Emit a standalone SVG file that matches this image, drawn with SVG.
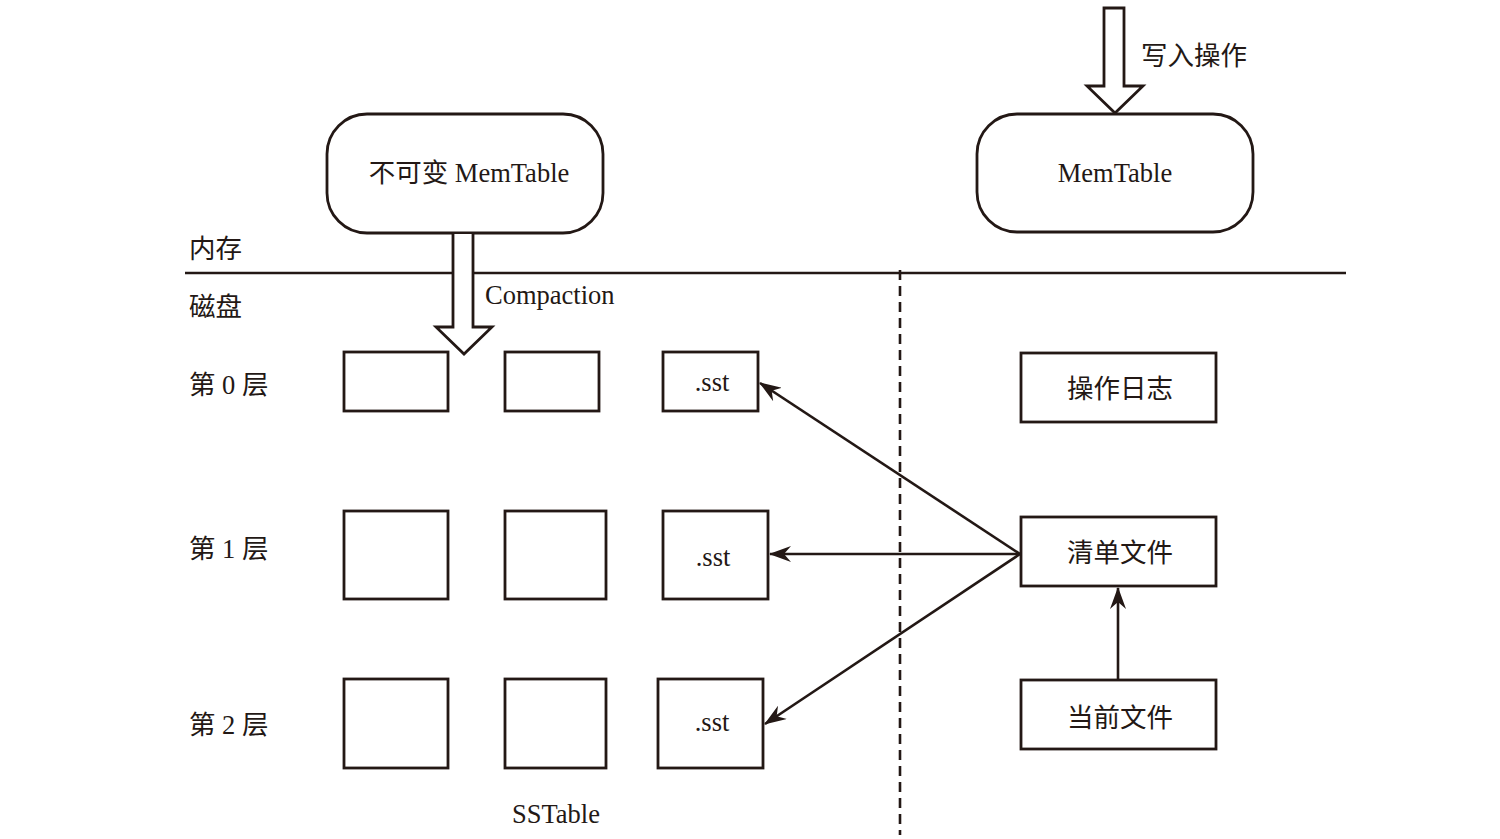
<svg xmlns="http://www.w3.org/2000/svg" width="1500" height="839" viewBox="0 0 1500 839">
<defs>
<marker id="ah" viewBox="0 0 22 16" refX="21" refY="8" markerWidth="22" markerHeight="16" markerUnits="userSpaceOnUse" orient="auto">
<path d="M0,0 L22,8 L0,16 L7,8 Z" fill="#231815"/>
</marker>
</defs>
<style>
.box{fill:#fff;stroke:#231815;stroke-width:2.8}
.ln{fill:none;stroke:#231815;stroke-width:2.6}
.t{font-family:"Liberation Serif","Noto Sans CJK SC",serif;font-size:26.5px;fill:#231815}
.c{text-anchor:middle}
</style>
<rect width="1500" height="839" fill="#fff"/>

<g id="divider">
<line class="ln" x1="185" y1="273" x2="1346" y2="273" stroke-width="2.2"/>
<line class="ln" x1="900" y1="270" x2="900" y2="835" stroke-width="2.2" stroke-dasharray="10,6"/>
</g>

<g id="labels">
<text class="t" x="189" y="258">内存</text>
<text class="t" x="189" y="316">磁盘</text>
<text class="t" x="189" y="394">第 0 层</text>
<text class="t" x="189" y="558">第 1 层</text>
<text class="t" x="189" y="734">第 2 层</text>
<text class="t c" x="556" y="823">SSTable</text>
</g>

<g id="write-arrow">
<path class="box" d="M1104,8 H1124 V86 H1143 L1115,113 L1087,86 H1104 Z"/>
<text class="t" x="1141" y="65">写入操作</text>
</g>

<g id="memtable">
<rect class="box" x="977" y="114" width="276" height="118" rx="40" ry="40"/>
<text class="t c" x="1115" y="182">MemTable</text>
</g>

<g id="imm-memtable">
<rect class="box" x="327" y="114" width="276" height="119" rx="40" ry="40"/>
<text class="t c" x="469" y="182">不可变 MemTable</text>
</g>

<g id="compaction-arrow">
<path class="box" d="M453,234 V327 H436 L464,354 L492,327 H473 V234"/>
<text class="t" x="485" y="304">Compaction</text>
</g>

<g id="level0">
<rect class="box" x="344" y="352" width="104" height="59"/>
<rect class="box" x="505" y="352" width="94" height="59"/>
<rect class="box" x="663" y="352" width="95" height="59"/>
<text class="t c" x="712" y="391">.sst</text>
</g>
<g id="level1">
<rect class="box" x="344" y="511" width="104" height="88"/>
<rect class="box" x="505" y="511" width="101" height="88"/>
<rect class="box" x="663" y="511" width="105" height="88"/>
<text class="t c" x="713" y="566">.sst</text>
</g>
<g id="level2">
<rect class="box" x="344" y="679" width="104" height="89"/>
<rect class="box" x="505" y="679" width="101" height="89"/>
<rect class="box" x="658" y="679" width="105" height="89"/>
<text class="t c" x="712" y="731">.sst</text>
</g>

<g id="log">
<rect class="box" x="1021" y="353" width="195" height="69"/>
<text class="t c" x="1120" y="398">操作日志</text>
</g>
<g id="manifest">
<rect class="box" x="1021" y="517" width="195" height="69"/>
<text class="t c" x="1120" y="562">清单文件</text>
</g>
<g id="current">
<rect class="box" x="1021" y="680" width="195" height="69"/>
<text class="t c" x="1120" y="727">当前文件</text>
</g>

<g id="connectors">
<line class="ln" x1="1020" y1="554" x2="760" y2="383" marker-end="url(#ah)"/>
<line class="ln" x1="1020" y1="554" x2="770" y2="554" marker-end="url(#ah)"/>
<line class="ln" x1="1020" y1="554" x2="765" y2="724" marker-end="url(#ah)"/>
<line class="ln" x1="1118" y1="680" x2="1118" y2="588" marker-end="url(#ah)"/>
</g>
</svg>
